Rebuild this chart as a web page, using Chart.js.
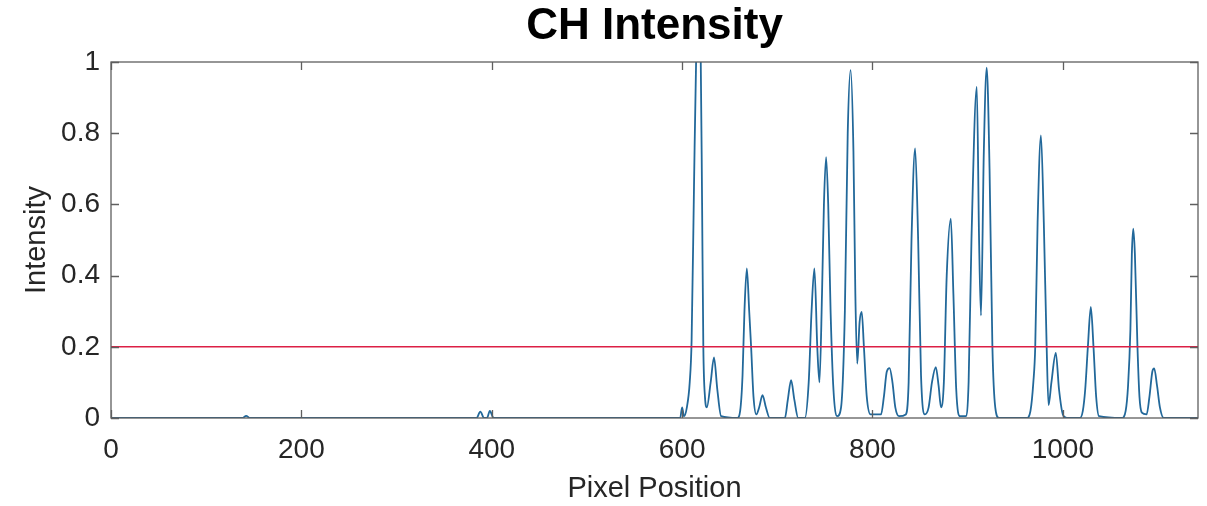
<!DOCTYPE html>
<html>
<head>
<meta charset="utf-8">
<script src="https://cdn.jsdelivr.net/npm/chart.js@4"></script>
<style>
  html, body { margin: 0; padding: 0; background: #fff; }
  canvas { display: block; }
</style>
</head>
<body>
<canvas id="chart" width="1207" height="506"></canvas>
<script>
// values (pixel position -> normalized intensity)
const position = [
  0, 138, 142, 146, 384, 388, 392, 395, 398, 402,
  598, 600, 602, 605, 608, 610, 612.5, 614.7, 617, 619.6, 621, 622.3, 624, 626, 630, 633.5, 637, 641,
  658, 661, 663.5, 665.5, 668, 670.5, 672.5, 675, 678, 681, 684.5, 688, 692,
  708, 711, 714.5, 718, 722,
  729, 733, 736, 739, 742, 744.3, 747, 749, 751.3, 753.5, 756, 759, 763,
  767, 771, 774, 777, 780, 782, 784, 786.5, 788.7, 791, 794, 798,
  809, 812, 815, 818, 821, 824, 828,
  835, 838, 841, 844.8, 848, 851, 855, 859, 862.5, 866.5, 869.5, 872,
  875, 878, 882.3, 885, 888, 892,
  898, 901, 904, 909.6, 912, 914, 917, 920, 923, 926, 929, 933,
  962, 966, 969, 971, 973.5, 977, 980, 983, 985, 988, 992.6, 996, 1000, 1004,
  1018, 1021, 1023.5, 1026.3, 1029.4, 1032.2, 1035, 1038,
  1062, 1066, 1068.5, 1071, 1072.5, 1074, 1075.7, 1078.4, 1080.5, 1083, 1088, 1091, 1094, 1096, 1099, 1102, 1106,
  1142
];
const intensity = [
  0, 0, 0.006, 0, 0, 0.018, 0, 0, 0.02, 0,
  0, 0.03, 0.005, 0.03, 0.1, 0.22, 0.65, 1.0, 1.12, 1.0, 0.6, 0.2, 0.06, 0.03, 0.1, 0.17, 0.08, 0.005,
  0, 0.02, 0.12, 0.3, 0.42, 0.3, 0.2, 0.06, 0.01, 0.03, 0.064, 0.03, 0,
  0, 0.05, 0.106, 0.05, 0,
  0, 0.1, 0.3, 0.42, 0.2, 0.1, 0.35, 0.6, 0.733, 0.6, 0.3, 0.08, 0.005,
  0.03, 0.3, 0.8, 0.977, 0.75, 0.35, 0.153, 0.27, 0.298, 0.2, 0.06, 0.01,
  0.01, 0.06, 0.13, 0.14, 0.1, 0.03, 0.005,
  0.01, 0.1, 0.5, 0.757, 0.5, 0.12, 0.01, 0.03, 0.1, 0.143, 0.09, 0.03,
  0.1, 0.4, 0.56, 0.35, 0.08, 0.005,
  0.005, 0.1, 0.5, 0.93, 0.5, 0.288, 0.75, 0.984, 0.7, 0.2, 0.03, 0,
  0, 0.02, 0.1, 0.2, 0.55, 0.794, 0.55, 0.2, 0.036, 0.1, 0.183, 0.08, 0.01, 0,
  0, 0.02, 0.08, 0.2, 0.312, 0.2, 0.06, 0.005,
  0, 0.02, 0.09, 0.25, 0.46, 0.532, 0.46, 0.2, 0.06, 0.015, 0.01, 0.06, 0.13, 0.139, 0.09, 0.03, 0,
  0
];
const threshold = 0.2;
const xRange = [0, 1142];
const xTicks = [0, 200, 400, 600, 800, 1000];
const yTicks = [0, 0.2, 0.4, 0.6, 0.8, 1];

const FONT = "'Liberation Sans', Arial, Helvetica, sans-serif";
const AXIS = '#5f5f5f';
const TEXT = '#262626';

// matlab style box with ticks pointing inward
const boxPlugin = {
  id: 'box',
  afterDraw(chart) {
    const {ctx, chartArea: a, scales: {x, y}} = chart;
    const len = 8;
    ctx.save();
    ctx.strokeStyle = AXIS;
    ctx.lineWidth = 1.3;
    ctx.beginPath();
    xTicks.forEach(v => {
      const px = Math.round(x.getPixelForValue(v)) + 0.5;
      ctx.moveTo(px, a.bottom); ctx.lineTo(px, a.bottom - len);
      ctx.moveTo(px, a.top); ctx.lineTo(px, a.top + len);
    });
    yTicks.forEach(v => {
      const py = Math.round(y.getPixelForValue(v)) + 0.5;
      ctx.moveTo(a.left, py); ctx.lineTo(a.left + len, py);
      ctx.moveTo(a.right, py); ctx.lineTo(a.right - len, py);
    });
    ctx.stroke();
    ctx.strokeRect(a.left, a.top, a.right - a.left, a.bottom - a.top);
    ctx.restore();
  }
};

new Chart(document.getElementById('chart'), {
  type: 'line',
  data: {
    datasets: [
      {
        label: 'threshold',
        data: xRange.map(v => ({x: v, y: threshold})),
        borderColor: '#dc1f45',
        borderWidth: 1.6,
        pointRadius: 0
      },
      {
        label: 'CH',
        data: position.map((p, i) => ({x: p, y: intensity[i]})),
        borderColor: '#22689a',
        borderWidth: 1.8,
        pointRadius: 0,
        cubicInterpolationMode: 'monotone'
      }
    ]
  },
  options: {
    responsive: false,
    animation: false,
    devicePixelRatio: 1,
    layout: { padding: { left: 0, right: 9, top: 0, bottom: 0 } },
    plugins: {
      legend: { display: false },
      tooltip: { enabled: false },
      title: {
        display: true,
        fullSize: false,
        text: 'CH Intensity',
        color: '#000',
        font: { family: FONT, size: 44, weight: 'bold', lineHeight: 1.2 },
        padding: { top: 0, bottom: 9.2 }
      }
    },
    scales: {
      x: {
        type: 'linear',
        min: xRange[0],
        max: xRange[1],
        grid: { display: false, drawTicks: false },
        border: { display: false },
        afterFit: s => { s.height = 88; },
        afterBuildTicks: s => { s.ticks = xTicks.map(v => ({value: v})); },
        ticks: { color: TEXT, padding: 15, maxRotation: 0, font: { family: FONT, size: 28 },
                 callback: v => String(v) },
        title: {
          display: true, text: 'Pixel Position', color: TEXT,
          font: { family: FONT, size: 29, lineHeight: 1.2 },
          padding: { top: 0, bottom: 0 }
        }
      },
      y: {
        min: 0,
        max: 1,
        grid: { display: false, drawTicks: false },
        border: { display: false },
        afterFit: s => { s.width = 111; },
        afterBuildTicks: s => { s.ticks = yTicks.map(v => ({value: v})); },
        ticks: { color: TEXT, padding: 11, font: { family: FONT, size: 28 },
                 callback: v => String(v) },
        title: {
          display: true, text: 'Intensity', color: TEXT,
          font: { family: FONT, size: 29, lineHeight: 1.2 },
          padding: { top: 20, bottom: 0 }
        }
      }
    }
  },
  plugins: [boxPlugin]
});
</script>
</body>
</html>
